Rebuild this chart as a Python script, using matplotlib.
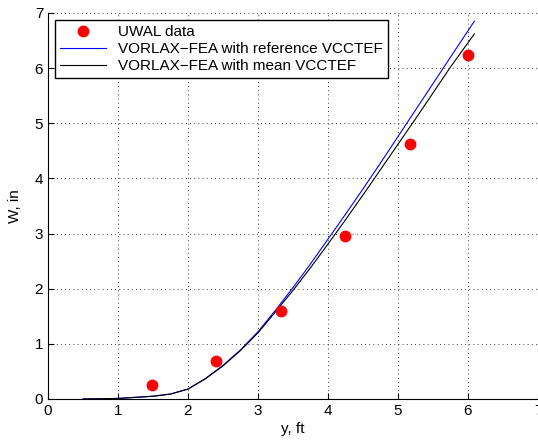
import matplotlib
matplotlib.use("Agg", force=True)
import matplotlib.pyplot as plt

plt.rcParams["font.family"] = ["Liberation Sans", "DejaVu Sans"]

# UWAL measured deflections
uwal_y = [1.49, 2.40, 3.33, 4.24, 5.17, 6.00]
uwal_w = [0.25, 0.69, 1.60, 2.96, 4.63, 6.24]

# VORLAX-FEA, reference VCCTEF
ref_y = [0.5, 1.0, 1.5, 1.75, 2.0, 2.25, 2.5, 2.75, 3.0, 3.25, 3.5, 3.75, 4.0, 4.25, 4.5, 4.75, 5.0, 5.25, 5.5, 5.75, 6.09]
ref_w = [0.0, 0.01, 0.05, 0.09, 0.18, 0.37, 0.61, 0.89, 1.22, 1.61, 2.02, 2.45, 2.90, 3.35, 3.81, 4.28, 4.76, 5.24, 5.72, 6.20, 6.85]

# VORLAX-FEA, mean VCCTEF
mean_y = [0.5, 1.0, 1.5, 1.75, 2.0, 2.25, 2.5, 2.75, 3.0, 3.25, 3.5, 3.75, 4.0, 4.25, 4.5, 4.75, 5.0, 5.25, 5.5, 5.75, 6.09]
mean_w = [0.0, 0.01, 0.05, 0.09, 0.18, 0.37, 0.60, 0.88, 1.20, 1.58, 1.97, 2.38, 2.81, 3.25, 3.70, 4.16, 4.62, 5.08, 5.55, 6.02, 6.62]

fig = plt.figure(figsize=(5.38, 4.42), dpi=100)
ax = fig.add_axes([48 / 538, 43 / 442, 490 / 538, 386 / 442])

ax.plot(uwal_y, uwal_w, "o", color="red", markersize=7.5, label="UWAL data", zorder=3)
ax.plot(ref_y, ref_w, color="blue", lw=0.8, label="VORLAX\u2212FEA with reference VCCTEF")
ax.plot(mean_y, mean_w, color="black", lw=0.8, label="VORLAX\u2212FEA with mean VCCTEF")

ax.set_xlim(0, 7)
ax.set_ylim(0, 7)
ax.set_xticks(range(8))
ax.set_yticks(range(8))
ax.grid(True, linestyle=(0, (1, 4)), color="black", lw=0.6)
ax.spines["top"].set_visible(False)
ax.spines["right"].set_visible(False)
ax.tick_params(direction="in", length=4, labelsize=11, top=False, right=False)
ax.set_xlabel("y, ft", fontsize=11, labelpad=3)
ax.set_ylabel("W, in", fontsize=11, labelpad=9)

leg = ax.legend(loc="upper left", bbox_to_anchor=(7 / 490, 379 / 386), borderaxespad=0,
                fontsize=11, fancybox=False, framealpha=1, edgecolor="black",
                borderpad=0.35, labelspacing=0.18, handlelength=3.0,
                handletextpad=0.75, numpoints=1)
leg.get_frame().set_linewidth(1.0)

fig.savefig("out.png", dpi=100)
